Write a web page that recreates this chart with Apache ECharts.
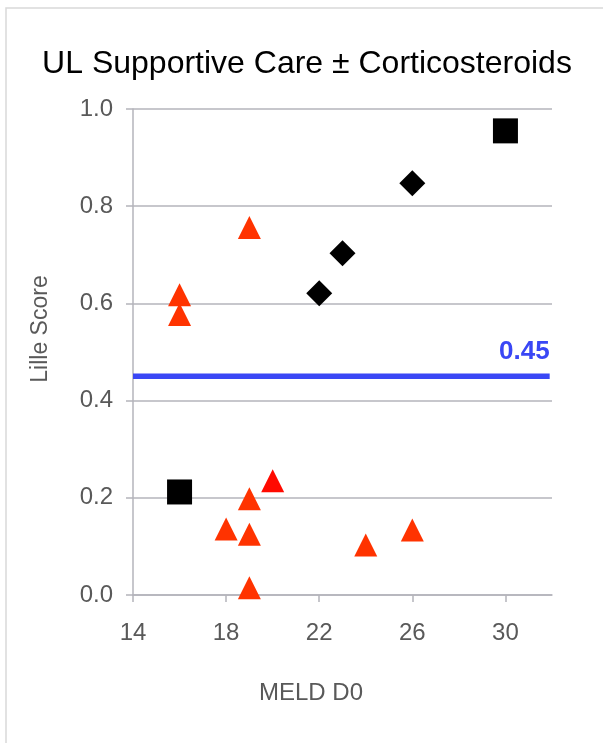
<!DOCTYPE html>
<html>
<head>
<meta charset="utf-8">
<script src="https://cdn.jsdelivr.net/npm/echarts@6/dist/echarts.min.js"></script>
<style>
  html, body { margin: 0; padding: 0; background: #fff; }
  #chart { width: 603px; height: 743px; }
</style>
</head>
<body>
<div id="chart"></div>
<script>
// Data
const titleText = 'UL Supportive Care ± Corticosteroids';
const xAxisName = 'MELD D0';
const yAxisName = 'Lille Score';
const xTicks = [14, 18, 22, 26, 30];
const yTicks = [0.0, 0.2, 0.4, 0.6, 0.8, 1.0];

// Orange triangles [MELD, Lille]
const triangles = [
  [16, 0.618], [16, 0.577], [19, 0.756],
  [18, 0.136], [19, 0.198], [19, 0.125], [19, 0.015],
  [24, 0.103], [26, 0.134]
];
// Red triangle
const redTriangles = [[20, 0.235]];
// Black diamonds
const diamonds = [[22, 0.621], [23, 0.703], [26, 0.847]];
// Black squares
const squares = [[16, 0.212], [30, 0.955]];
// Threshold line
const cutoff = 0.45;
const cutoffLabel = '0.45';
const xRange = [14, 32];

const chart = echarts.init(document.getElementById('chart'), null, { renderer: 'canvas' });
const FONT = 'Liberation Sans, Arial, sans-serif';
const gray = '#595959';
const lineGray = '#b4b4bb';

const option = {
  backgroundColor: '#fff',
  animation: false,
  title: [
    { text: titleText, left: 302, top: 43, textAlign: 'center',
      textStyle: { fontFamily: FONT, fontSize: 32, fontWeight: 'normal', color: '#000' } },
    { text: xAxisName, left: 306, top: 676, textAlign: 'center',
      textStyle: { fontFamily: FONT, fontSize: 24, fontWeight: 'normal', color: gray } }
  ],
  graphic: [
    { type: 'rect', shape: { x: 6, y: 8, width: 620, height: 760 }, style: { fill: 'none', stroke: '#d9d9d9', lineWidth: 1.5 }, z: -1 },
    { type: 'text', x: 41, y: 329, rotation: Math.PI / 2,
      style: { text: yAxisName, fontFamily: FONT, fontSize: 23, fill: gray, align: 'center', verticalAlign: 'middle' } }
  ],
  grid: { left: 133, top: 109, width: 419, height: 486 },
  xAxis: {
    type: 'value', min: xRange[0], max: xRange[1], interval: 4,
    axisLine: { show: true, onZero: false, lineStyle: { color: lineGray, width: 1.5 } },
    axisTick: { show: true, length: 7, lineStyle: { color: lineGray, width: 1.5 }, customValues: xTicks },
    axisLabel: { fontFamily: FONT, fontSize: 24, color: gray, margin: 26, customValues: xTicks },
    splitLine: { show: false }
  },
  yAxis: {
    type: 'value', min: 0, max: 1, interval: 0.2,
    axisLine: { show: true, lineStyle: { color: lineGray, width: 1.5 } },
    axisTick: { show: true, length: 7, lineStyle: { color: lineGray, width: 1.5 } },
    axisLabel: { fontFamily: FONT, fontSize: 24, color: gray, margin: 20,
      formatter: v => v.toFixed(1) },
    splitLine: { show: true, lineStyle: { color: lineGray, width: 1.5 } }
  },
  series: [
    { type: 'line', data: [[xRange[0], cutoff], [xRange[1] - 0.1, cutoff]],
      symbol: 'none', lineStyle: { color: '#3a47f5', width: 5.5 }, z: 1,
      label: { show: false },
      endLabel: { show: true, formatter: cutoffLabel, fontFamily: FONT, fontSize: 26, fontWeight: 'bold', color: '#3a47f5',
        position: 'top', align: 'right', offset: [-8, -24] } },
    { type: 'scatter', data: triangles, symbol: 'triangle', symbolSize: 23,
      itemStyle: { color: '#ff3300', opacity: 1 }, z: 3 },
    { type: 'scatter', data: redTriangles, symbol: 'triangle', symbolSize: 23,
      itemStyle: { color: '#ff0a00', opacity: 1 }, z: 3 },
    { type: 'scatter', data: diamonds, symbol: 'diamond', symbolSize: 26,
      itemStyle: { color: '#000', opacity: 1 }, z: 3 },
    { type: 'scatter', data: squares, symbol: 'rect', symbolSize: 25,
      itemStyle: { color: '#000', opacity: 1, borderColor: '#000', borderWidth: 0 }, z: 3 }
  ]
};
chart.setOption(option);
</script>
</body>
</html>
